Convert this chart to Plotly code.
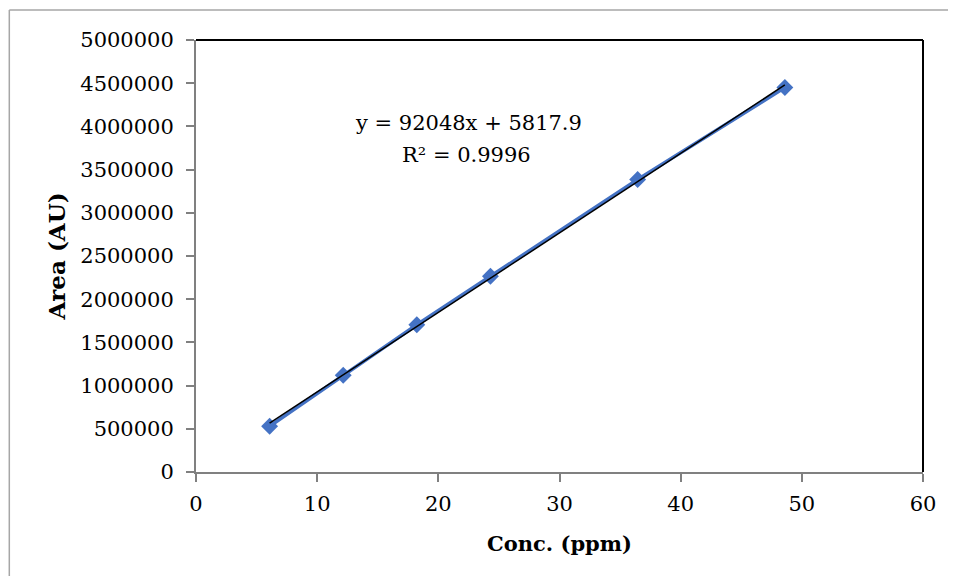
import plotly.graph_objects as go

conc = [6.075, 12.15, 18.225, 24.3, 36.45, 48.6]
area = [530000, 1120000, 1705000, 2265000, 3385000, 4450000]
slope = 92048
intercept = 5817.9
trend_x = [conc[0], conc[-1]]
trend_y = [slope * v + intercept for v in trend_x]
x_ticks = [0, 10, 20, 30, 40, 50, 60]
y_ticks = [0, 500000, 1000000, 1500000, 2000000, 2500000, 3000000, 3500000, 4000000, 4500000, 5000000]

FONT = "DejaVu Serif"

fig = go.Figure()
fig.add_trace(go.Scatter(x=conc, y=area, mode="lines+markers",
                         line=dict(color="#4472C4", width=3.5),
                         marker=dict(symbol="diamond", size=13, color="#4472C4"),
                         showlegend=False))
fig.add_trace(go.Scatter(x=trend_x, y=trend_y, mode="lines",
                         line=dict(color="black", width=1.5), showlegend=False))

fig.add_annotation(x=22.5, y=4040000, text="y = 92048x + 5817.9", showarrow=False,
                   font=dict(family=FONT, size=21, color="black"))
fig.add_annotation(x=22.3, y=3670000, text="R² = 0.9996", showarrow=False,
                   font=dict(family=FONT, size=21, color="black"))

# plot frame top/right in black
fig.add_shape(type="line", xref="paper", yref="paper", x0=0, x1=1, y0=1, y1=1,
              line=dict(color="black", width=2))
fig.add_shape(type="line", xref="paper", yref="paper", x0=1, x1=1, y0=0, y1=1,
              line=dict(color="black", width=2))
# outer chart border (left and top edges visible)
fig.add_shape(type="line", xref="paper", yref="paper",
              x0=-0.2568, x1=1.2, y0=1.0694, y1=1.0694,
              line=dict(color="#a6a6a6", width=1.5))
fig.add_shape(type="line", xref="paper", yref="paper",
              x0=-0.2568, x1=-0.2568, y0=-0.5, y1=1.0694,
              line=dict(color="#a6a6a6", width=1.5))

fig.update_xaxes(range=[0, 60], tickvals=x_ticks, ticktext=[str(v) for v in x_ticks],
                 showgrid=False, zeroline=False, showline=True, linecolor="#808080", linewidth=2,
                 ticks="outside", ticklen=8, tickcolor="#808080", tickwidth=1.5,
                 ticklabelstandoff=4,
                 tickfont=dict(family=FONT, size=21, color="black"),
                 title=dict(text="<b>Conc. (ppm)</b>", font=dict(family=FONT, size=21, color="black"), standoff=21))
fig.update_yaxes(range=[0, 5000000], tickvals=y_ticks, ticktext=[str(v) for v in y_ticks],
                 showgrid=False, zeroline=False, showline=True, linecolor="#808080", linewidth=2,
                 ticks="outside", ticklen=8, tickcolor="#808080", tickwidth=1.5,
                 ticklabelstandoff=8,
                 tickfont=dict(family=FONT, size=21, color="black"),
                 title=dict(text="<b>Area (AU)</b>", font=dict(family=FONT, size=23, color="black"), standoff=8))

fig.update_layout(width=940, height=568, margin=dict(l=188, r=23, t=32, b=104),
                  plot_bgcolor="white", paper_bgcolor="white")
fig.write_html("out.html")
